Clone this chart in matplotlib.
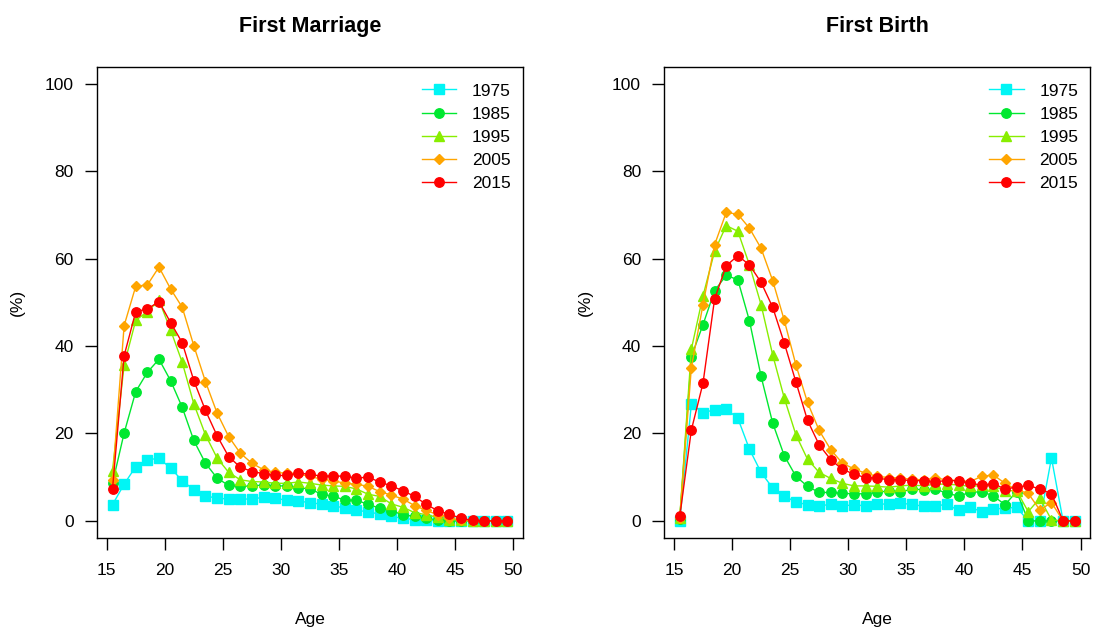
import numpy as np
import matplotlib
matplotlib.use("Agg")
import matplotlib.pyplot as plt

plt.rcParams['font.family'] = ['Liberation Sans', 'DejaVu Sans']

# single-year age groups (midpoints)
ages = np.arange(15.5, 50.0, 1.0)
years = ['1975', '1985', '1995', '2005', '2015']

# First marriage rates (%)
marr_1975 = [3.7, 8.4, 12.4, 14.0, 14.3, 12.1, 9.2, 7.1, 5.7, 5.2, 5.0, 5.0, 5.0, 5.4, 5.2, 4.7, 4.5,
             4.2, 3.8, 3.5, 2.9, 2.5, 2.0, 1.6, 1.0, 0.6, 0.3, 0.1, 0.05, 0, 0, 0, 0, 0, 0]
marr_1985 = [8.6, 20.1, 29.6, 34.0, 37.0, 32.1, 26.0, 18.4, 13.2, 9.8, 8.1, 7.9, 8.0, 8.2, 8.0, 8.0, 7.6,
             7.3, 6.1, 5.6, 4.8, 4.7, 3.8, 2.9, 2.3, 1.4, 1.0, 0.6, 0.2, 0, 0, 0, 0, 0, 0]
marr_1995 = [11.5, 35.7, 45.9, 47.9, 50.5, 43.7, 36.3, 26.8, 19.7, 14.4, 11.1, 9.4, 9.0, 8.9, 8.6, 8.6, 8.9,
             8.6, 8.2, 8.0, 7.9, 7.3, 6.1, 5.6, 3.9, 3.1, 1.9, 1.4, 0.8, 0.3, 0.1, 0, 0, 0, 0]
marr_2005 = [9.4, 44.7, 53.7, 54.0, 58.1, 53.1, 48.9, 40.1, 31.9, 24.7, 19.3, 15.5, 13.2, 11.7, 11.1, 10.9, 10.7,
             10.2, 9.5, 9.2, 8.6, 8.4, 7.9, 6.7, 5.9, 5.0, 3.5, 2.4, 1.4, 0.6, 0.2, 0, 0, 0, 0]
marr_2015 = [7.3, 37.8, 47.9, 48.5, 50.2, 45.4, 40.8, 32.1, 25.3, 19.5, 14.7, 12.3, 11.3, 10.8, 10.4, 10.4, 10.9,
             10.7, 10.2, 10.3, 10.2, 9.8, 10.0, 8.9, 8.0, 6.9, 5.6, 3.8, 2.3, 1.5, 0.6, 0.1, 0, 0, 0]

# First birth rates (%)
birth_1975 = [0, 26.7, 24.8, 25.4, 25.6, 23.5, 16.4, 11.1, 7.5, 5.7, 4.3, 3.7, 3.4, 3.8, 3.5, 3.6,
              3.5, 3.9, 3.8, 4.0, 3.8, 3.3, 3.4, 3.8, 2.4, 3.1, 2.1, 2.7, 2.9, 3.1, 0, 0, 14.4, 0, 0]
birth_1985 = [0.5, 37.6, 44.9, 52.7, 56.2, 55.2, 45.8, 33.1, 22.4, 14.9, 10.2, 7.9, 6.5, 6.5, 6.3, 6.2,
              6.2, 6.5, 6.9, 6.6, 7.3, 7.1, 7.3, 6.3, 5.7, 6.5, 6.7, 5.7, 3.7, 6.7, 0, 0, 0, 0, 0]
birth_1995 = [0.6, 39.3, 51.5, 61.7, 67.6, 66.3, 58.6, 49.5, 38.0, 28.1, 19.7, 14.1, 11.1, 9.7, 8.6, 8.0,
              8.0, 7.9, 7.7, 8.0, 8.2, 8.0, 8.4, 8.4, 8.2, 7.9, 8.1, 8.0, 6.9, 6.9, 2.1, 5.2, 0.2, 0, 0]
birth_2005 = [0.6, 35.1, 49.5, 63.2, 70.6, 70.2, 67.0, 62.4, 55.0, 45.9, 35.7, 27.1, 20.7, 16.3, 13.2, 11.9,
              10.9, 10.2, 9.9, 9.8, 9.5, 9.4, 9.8, 9.4, 9.2, 9.0, 10.2, 10.5, 8.6, 7.1, 6.3, 2.5, 4.2, 0, 0]
birth_2015 = [1.0, 20.8, 31.5, 50.8, 58.4, 60.7, 58.6, 54.6, 48.9, 40.7, 31.8, 23.0, 17.4, 14.0, 11.8, 10.7,
              9.9, 9.8, 9.4, 9.4, 9.2, 9.2, 9.0, 9.2, 9.2, 8.6, 8.2, 8.5, 7.3, 7.7, 8.1, 7.3, 6.2, 0, 0]

colors = ['#00F5F5', '#00E830', '#88EE00', '#FFA500', '#FF0000']
markers = ['s', 'o', '^', 'D', 'o']
msizes = [6.8, 6.8, 7.3, 4.8, 6.8]

fig = plt.figure(figsize=(10.94, 6.32), dpi=100)
ax1 = fig.add_axes([0.0884, 0.1482, 0.3899, 0.7465])
ax2 = fig.add_axes([0.6069, 0.1482, 0.3899, 0.7465])


def panel(ax, series, title):
    for vals, col, mk, ms, lab in zip(series, colors, markers, msizes, years):
        ax.plot(ages, vals, color=col, marker=mk, markersize=ms, lw=1.0, label=lab)
    ax.set_xlim(14.14, 50.86)
    ax.set_ylim(-4, 104)
    ax.set_xticks(range(15, 51, 5))
    ax.set_yticks(range(0, 101, 20))
    ax.tick_params(axis='x', length=8.5, width=1.0, pad=9, labelsize=12.5)
    ax.tick_params(axis='y', length=8.5, width=1.0, pad=8, labelsize=12.5)
    for sp in ax.spines.values():
        sp.set_linewidth(1.0)
    ax.set_title(title, fontsize=15.5, fontweight='bold', pad=25)
    ax.set_xlabel('Age', fontsize=12.5, labelpad=25)
    ax.set_ylabel('(%)', fontsize=12.5, labelpad=14)
    ax.legend(loc='upper right', bbox_to_anchor=(1.0, 0.99), frameon=False, fontsize=12.5,
              handlelength=2.0, handletextpad=0.9, labelspacing=0.46, borderaxespad=0.3)


panel(ax1, [marr_1975, marr_1985, marr_1995, marr_2005, marr_2015], 'First Marriage')
panel(ax2, [birth_1975, birth_1985, birth_1995, birth_2005, birth_2015], 'First Birth')

fig.savefig('out.png', dpi=100)
